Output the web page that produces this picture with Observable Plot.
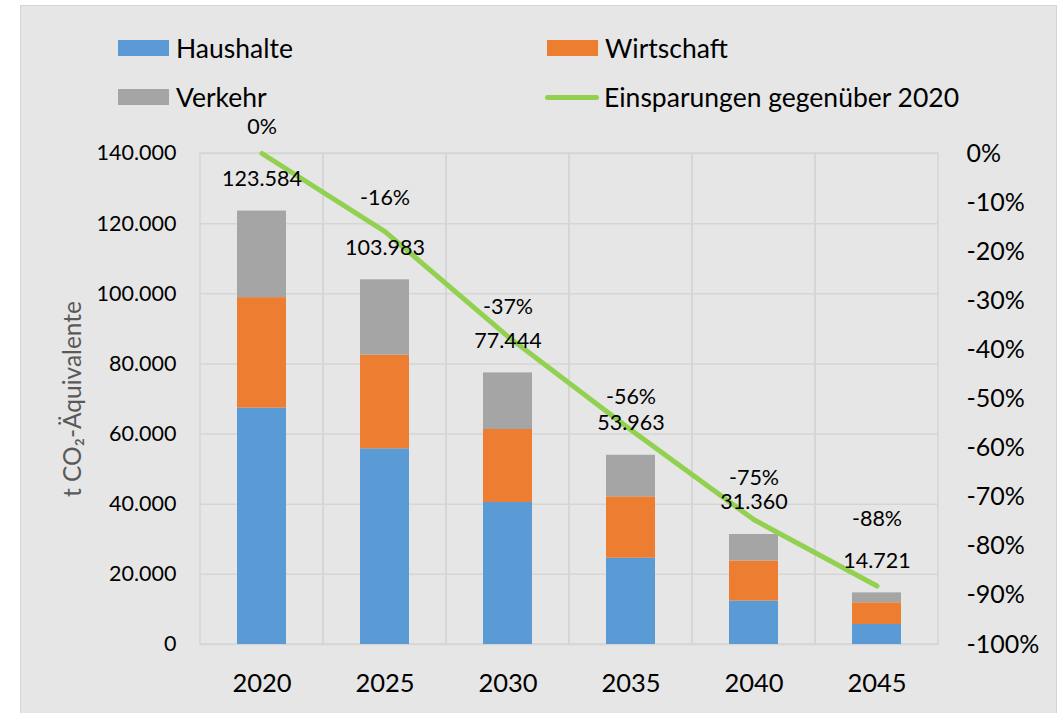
<!DOCTYPE html>
<html><head><meta charset="utf-8">
<script src="https://cdn.jsdelivr.net/npm/d3@7"></script>
<script src="https://cdn.jsdelivr.net/npm/@observablehq/plot@0.6"></script>
<style>
body{margin:0;background:#fff;font-family:Lato,sans-serif;}
#chart{position:absolute;left:20px;top:5px;width:1037px;height:712px;box-sizing:border-box;border:1px solid #d4d4d4;background:#e6e6e6;overflow:hidden}
#chart svg{position:absolute;left:0;top:0}
.leg{position:absolute;display:flex;align-items:center;height:20px;line-height:20px;font-size:26.5px;color:#000;white-space:nowrap;z-index:2}
.sw{width:51px;height:16px;margin-right:7px}
.ln{width:54px;height:5px;border-radius:3px;margin-right:5px}
</style></head><body>
<div id="chart"></div>
<script>
// ---- data ----
const years = ["2020", "2025", "2030", "2035", "2040", "2045"];
const seriesNames = ["Haushalte", "Wirtschaft", "Verkehr"];
const haushalte = [67400, 55800, 40500, 24600, 12400, 5700];
const wirtschaft = [31500, 26700, 20800, 17500, 11400, 6200];
const verkehr = [24684, 21483, 16144, 11863, 7560, 2821];
const totals = [123584, 103983, 77444, 53963, 31360, 14721];
const savings = [0, -0.159, -0.373, -0.563, -0.746, -0.881];
const lineName = "Einsparungen gegenüber 2020";
const yTicks = [0, 20000, 40000, 60000, 80000, 100000, 120000, 140000];
const pctTicks = [0, -0.1, -0.2, -0.3, -0.4, -0.5, -0.6, -0.7, -0.8, -0.9, -1];
const yLabel = "t CO₂-Äquivalente";

// ---- styles ----
const colors = ["#5B9BD5", "#ED7D31", "#A5A5A5"];
const lineColor = "#92D050";
const gridColor = "#d5d5d5";
const pctDy = [-26.5, -33, -30, -33, -42, -67];

const yMax = 140000;
const toY = p => yMax * (1 + p);
const de = d3.formatLocale({decimal: ",", thousands: ".", grouping: [3], currency: ["", "€"], minus: "-", percent: "%"});
const fmtNum = de.format(",");
const fmtPct = de.format(".0%");

const seriesValues = [haushalte, wirtschaft, verkehr];
const table = years.flatMap((yr, i) => seriesNames.map((s, j) => ({year: yr, series: s, value: seriesValues[j][i]})));

const chart = Plot.plot({
  width: 1035, height: 706,
  marginLeft: 179, marginRight: 118, marginTop: 147, marginBottom: 68,
  style: {fontFamily: "Lato", background: "transparent", color: "#000", overflow: "visible"},
  x: {type: "band", domain: years, padding: 0},
  y: {domain: [0, yMax]},
  color: {domain: seriesNames, range: colors},
  marks: [
    Plot.gridY(yTicks, {stroke: gridColor, strokeOpacity: 1, strokeWidth: 1.5}),
    Plot.cell(years, {x: d => d, stroke: gridColor, strokeWidth: 1.5, fill: "none", inset: 0}),
    Plot.barY(table, {x: "year", y: "value", fill: "series", insetLeft: 37, insetRight: 37}),
    Plot.line(years, {x: d => d, y: (d, i) => toY(savings[i]), stroke: lineColor, strokeWidth: 5, strokeLinecap: "round", strokeLinejoin: "round"}),
    Plot.text(years, {x: d => d, y: (d, i) => totals[i], text: (d, i) => fmtNum(totals[i]), dy: -32, fontSize: 21.5, fill: "#000"}),
    ...savings.map((s, i) => Plot.text([years[i]], {x: d => d, y: () => toY(s), text: () => fmtPct(s), dy: pctDy[i], fontSize: 21.5, fill: "#000"})),
    Plot.axisY(yTicks, {anchor: "left", tickSize: 0, tickPadding: 24, tickFormat: fmtNum, fontSize: 21.5, label: null}),
    Plot.axisY(pctTicks.map(toY), {anchor: "right", tickSize: 0, tickPadding: 28, tickFormat: v => fmtPct(v / yMax - 1), fontSize: 25, label: null}),
    Plot.axisX({tickSize: 0, tickPadding: 29, fontSize: 25.5, label: null}),
    Plot.text([yLabel], {frameAnchor: "left", rotate: -90, dx: -127, fontSize: 24.5, fill: "#595959", textAnchor: "middle"})
  ]
});
const root = document.getElementById("chart");
root.appendChild(chart);

// legend
const legItems = [
  {name: seriesNames[0], color: colors[0], left: 97, top: 32, type: "sw"},
  {name: seriesNames[1], color: colors[1], left: 526, top: 32, type: "sw"},
  {name: seriesNames[2], color: colors[2], left: 97, top: 81, type: "sw"},
  {name: lineName, color: lineColor, left: 524, top: 81, type: "ln"}
];
for (const it of legItems) {
  const d = document.createElement("div");
  d.className = "leg";
  d.style.left = it.left + "px";
  d.style.top = it.top + "px";
  const s = document.createElement("span");
  s.className = it.type;
  s.style.background = it.color;
  d.appendChild(s);
  d.appendChild(document.createTextNode(it.name));
  root.appendChild(d);
}
</script>
</body></html>
